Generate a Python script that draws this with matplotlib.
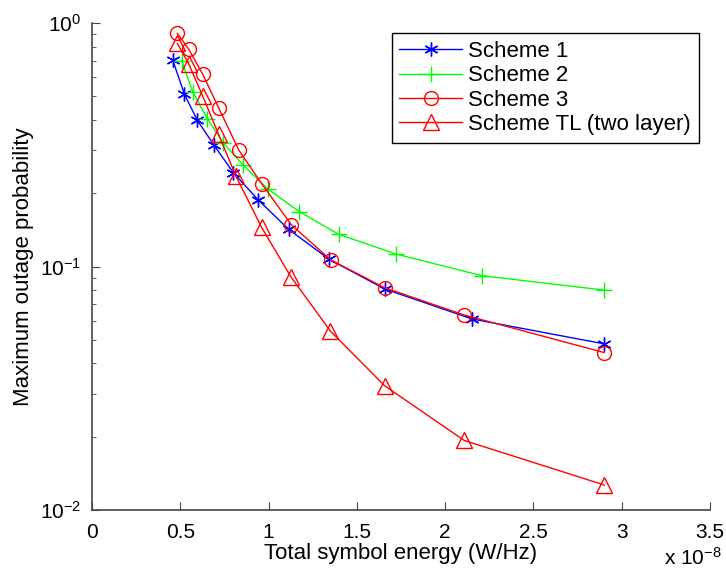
import numpy as np
import matplotlib.pyplot as plt

plt.rcParams['font.family'] = ['Liberation Sans', 'DejaVu Sans']
plt.rcParams['mathtext.fontset'] = 'custom'
plt.rcParams['mathtext.rm'] = 'Liberation Sans'
plt.rcParams['mathtext.it'] = 'Liberation Sans:italic'

# Energías en unidades de 1e-8 W/Hz
x_s1 = [0.457, 0.523, 0.596, 0.691, 0.800, 0.942, 1.114, 1.344, 1.657, 2.152, 2.901]
y_s1 = [0.705, 0.511, 0.399, 0.315, 0.243, 0.1875, 0.142, 0.107, 0.0809, 0.0609, 0.0481]

x_s2 = [0.508, 0.570, 0.653, 0.743, 0.857, 0.998, 1.174, 1.397, 1.722, 2.207, 2.901]
y_s2 = [0.700, 0.522, 0.405, 0.322, 0.2604, 0.2075, 0.168, 0.1356, 0.1125, 0.0917, 0.080]

x_s3 = [0.483, 0.548, 0.627, 0.717, 0.831, 0.963, 1.129, 1.352, 1.657, 2.108, 2.901]
y_s3 = [0.907, 0.780, 0.616, 0.449, 0.301, 0.2176, 0.1484, 0.1064, 0.0818, 0.0632, 0.0443]

x_tl = [0.483, 0.548, 0.627, 0.717, 0.815, 0.961, 1.127, 1.350, 1.657, 2.108, 2.901]
y_tl = [0.825, 0.679, 0.501, 0.349, 0.235, 0.1446, 0.0906, 0.0543, 0.0324, 0.0193, 0.01267]

labels = ['Scheme 1', 'Scheme 2', 'Scheme 3', 'Scheme TL (two layer)']

fs = 16
fs_ticks = 15

fig = plt.figure(figsize=(7.26, 5.79), dpi=100)
ax = fig.add_axes([92/726, 1-510/579, (710-92)/726, (510-23)/579])

# asterisco de 6 brazos como en MATLAB
ax.plot(x_s1, y_s1, color='#0000ff', marker=(6, 2, 0), ms=10, mew=1, lw=1, label=labels[0])
ax.plot(x_s2, y_s2, color='#00ff00', marker='+', ms=11, mew=1, lw=1, label=labels[1])
ax.plot(x_s3, y_s3, color='#ff0000', marker='o', ms=10, mfc='none', mew=1, lw=1, label=labels[2])
ax.plot(x_tl, y_tl, color='#ff0000', marker='^', ms=11, mfc='none', mew=1, lw=1, label=labels[3])

ax.set_yscale('log')
ax.set_xlim(0, 3.5)
ax.set_ylim(1e-2, 1)
ax.set_xticks(np.arange(0, 3.51, 0.5))
ax.set_xticklabels(['0', '0.5', '1', '1.5', '2', '2.5', '3', '3.5'])

for s in ['top', 'right']:
    ax.spines[s].set_visible(False)
for s in ['left', 'bottom']:
    ax.spines[s].set_color('#444444')
    ax.spines[s].set_linewidth(1.2)
ax.tick_params(which='both', direction='in', color='#444444', labelsize=fs_ticks)
ax.tick_params(axis='x', pad=9)
ax.tick_params(axis='y', pad=8)
ax.tick_params(which='major', length=6)
ax.tick_params(which='minor', length=3)

ax.set_xlabel('Total symbol energy (W/Hz)', fontsize=fs, labelpad=1)
ax.set_ylabel('Maximum outage probability', fontsize=fs, labelpad=4)
fig.text(722/726, 1-558/579, r'x 10$^{-8}$', fontsize=fs_ticks, ha='right', va='center')

leg = ax.legend(loc='upper right', bbox_to_anchor=(0.982, 0.979), fontsize=fs,
                fancybox=False, edgecolor='black', framealpha=1, borderaxespad=0,
                handlelength=2.8, labelspacing=0.15, borderpad=0.35, handletextpad=0.3)
leg.get_frame().set_linewidth(1.0)

fig.savefig('out.png', dpi=100)
